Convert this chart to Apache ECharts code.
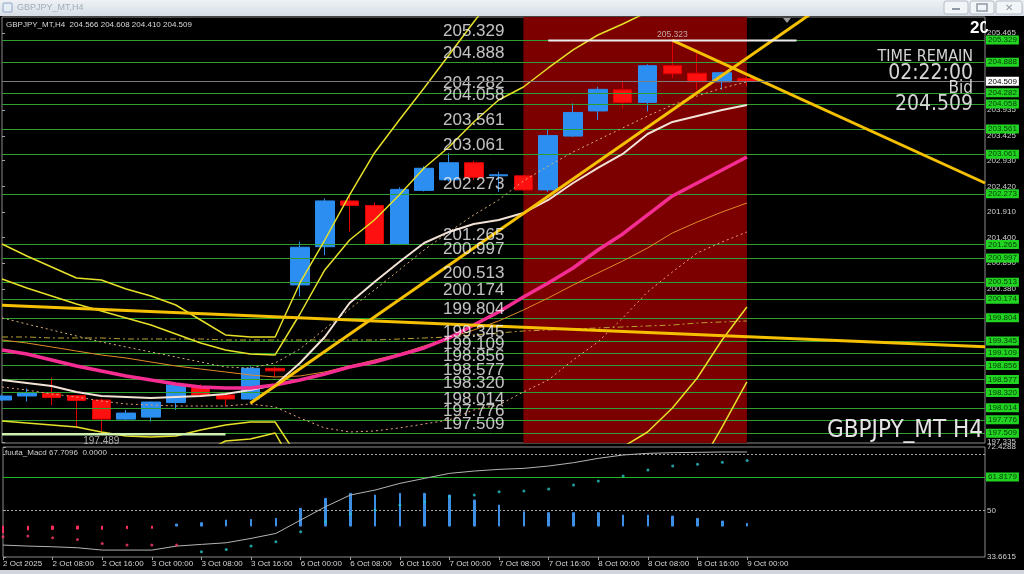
<!DOCTYPE html>
<html><head><meta charset="utf-8">
<script src="https://cdn.jsdelivr.net/npm/echarts@6/dist/echarts.min.js"></script>
<style>html,body{margin:0;padding:0;background:#000;overflow:hidden}#c{width:1024px;height:574px}</style>
</head><body><div id="c"></div>
<script>
// ---------- DATA ----------
const timeTickIndex = [0,2,4,6,8,10,12,14,16,18,20,22,24,26,28,30];
const timeTickLabels = ['2 Oct 2025','2 Oct 08:00','2 Oct 16:00','3 Oct 00:00','3 Oct 08:00','3 Oct 16:00','6 Oct 00:00','6 Oct 08:00','6 Oct 16:00','7 Oct 00:00','7 Oct 08:00','7 Oct 16:00','8 Oct 00:00','8 Oct 08:00','8 Oct 16:00','9 Oct 00:00'];

const openP  = [198.17,198.25,198.30,198.26,198.17,197.79,197.83,198.12,198.42,198.27,198.19,198.80,200.46,201.22,202.13,202.04,201.27,202.34,202.55,202.89,202.63,202.63,202.35,203.42,203.92,204.34,204.09,204.82,204.67,204.50,204.566];
const closeP = [198.25,198.32,198.22,198.16,197.79,197.91,198.13,198.47,198.27,198.19,198.80,198.75,201.21,202.13,202.04,201.27,202.36,202.78,202.89,202.60,202.65,202.35,203.43,203.89,204.35,204.09,204.82,204.66,204.50,204.68,204.509];
const lowP   = [198.15,198.14,198.07,197.61,197.489,197.77,197.74,197.97,198.25,198.04,198.17,198.63,200.23,201.05,201.52,201.25,201.25,202.32,202.52,202.55,202.31,202.33,202.31,203.40,203.74,203.97,203.91,204.57,204.34,204.34,204.410];
const highP  = [198.28,198.40,198.62,198.27,198.20,197.97,198.14,198.50,198.48,198.30,198.84,198.83,201.32,202.18,202.28,202.10,202.40,202.82,203.08,202.93,202.71,202.65,203.56,204.07,204.40,204.50,204.85,205.323,205.07,204.70,204.608];

const pinkMA   = [199.165,199.086,198.966,198.847,198.747,198.648,198.568,198.489,198.429,198.409,198.409,198.469,198.568,198.688,198.827,198.926,199.066,199.205,199.404,199.662,199.921,200.219,200.498,200.796,201.154,201.473,201.851,202.229,202.487,202.746,203.005];
const whiteMA  = [198.568,198.509,198.449,198.330,198.250,198.230,198.210,198.230,198.250,198.290,198.369,198.469,198.907,199.424,200.100,200.518,200.916,201.294,201.513,201.672,201.751,201.891,202.149,202.487,202.786,203.064,203.462,203.701,203.820,203.939,204.039];
const orangeMA = [199.364,199.304,199.225,199.145,199.066,199.006,198.926,198.847,198.787,198.728,198.668,198.628,198.648,198.728,198.847,198.966,199.086,199.245,199.404,199.563,199.742,199.961,200.200,200.458,200.697,200.936,201.194,201.493,201.711,201.910,202.089];
const bandUpper2 = [201.274,201.035,200.816,200.597,200.558,200.379,200.239,200.060,199.762,199.464,199.424,199.424,200.498,201.353,202.249,203.084,203.741,204.377,205.034,205.690,206.327];
const bandUpper1 = [200.578,200.399,200.239,200.080,199.941,199.802,199.662,199.483,199.304,199.165,199.086,199.066,199.881,200.757,201.353,201.751,202.249,202.786,203.203,203.701,204.138,204.397,204.775,205.133,205.431,205.650,205.889,206.167];
const bandLower1 = [197.753,197.713,197.673,197.633,197.534,197.454,197.434,197.454,197.574,197.673,197.733,197.733,196.977,196.380,195.783,195.385,195.087,194.988,194.988,195.087,195.286,195.584,195.942,196.281,196.778,197.236,197.534,198.011,198.608,199.364,200.021];
const bandLower2 = [197.056,197.137,197.116,197.097,196.936,196.917,196.897,196.918,197.096,197.354,197.394,197.514,196.638,196.0,195.4,194.8,194.4,194.0,193.8,193.6,193.5,193.6,193.8,194.2,194.7,195.3,195.8,196.3,196.78,197.63,198.53];
const dottedUpper = [199.802,199.682,199.563,199.444,199.324,199.225,199.125,199.026,198.926,198.827,198.807,198.907,199.185,199.583,199.981,200.359,200.757,201.155,201.513,201.851,202.149,202.527,202.826,203.104,203.343,203.582,203.820,204.039,204.218,204.377,204.496];
const dottedLower = [198.429,198.369,198.290,198.230,198.151,198.091,198.071,198.051,198.051,198.051,198.091,198.031,197.812,197.614,197.534,197.554,197.614,197.693,197.773,197.972,198.071,198.330,198.568,198.966,199.324,199.802,200.319,200.717,201.095,201.314,201.513];
const dashedLong = [199.424,199.424,199.404,199.404,199.404,199.384,199.384,199.384,199.384,199.364,199.364,199.364,199.364,199.364,199.364,199.364,199.384,199.404,199.424,199.464,199.503,199.543,199.563,199.583,199.603,199.623,199.643,199.662,199.702,199.722,199.742];

const trendFlat = [[0,200.055],[39.59,199.23]];
const trendUp   = [[10,198.105],[33,206.0]];
const trendDown = [[27,205.323],[39.59,202.487]];
const highLine  = [[22,205.323],[32,205.323]];
const highLabelAt = [27,205.323];
const lowLine   = [[0,197.489],[9,197.489]];
const lowLabelAt = [4,197.489];
const redZone   = [21,30];

const levels = [205.329,204.888,204.282,204.058,203.561,203.061,202.273,201.265,200.997,200.513,200.174,199.804,199.345,199.109,198.856,198.577,198.320,198.014,197.776,197.509];
const levelLabelBar = 19;
const currentBid = 204.509;
const priceAxisTicks = [205.465,203.935,203.425,202.930,202.420,201.910,201.400,200.890,200.380,197.335];

const macdSignal = [37.86,37.51,37.27,36.92,36.10,36.10,36.10,37.51,38.10,38.68,40.21,41.97,46.68,51.38,55.50,57.26,59.61,61.38,63.14,63.96,64.55,64.90,65.73,66.90,68.43,69.61,70.20,70.43,70.55,70.67,70.67];
const macdMain = [40.80,41.04,40.45,39.86,38.45,37.86,37.86,37.86,35.51,36.33,37.51,39.04,42.56,46.09,48.80,50.21,51.97,53.15,54.91,55.50,56.67,56.91,57.61,59.02,60.44,62.20,64.32,65.73,66.31,67.02,67.71];
const macdHist = [42.20,43.15,43.39,43.50,43.39,43.62,43.74,45.27,45.74,46.68,46.92,47.27,50.80,54.32,56.09,55.50,56.09,56.09,55.50,53.73,51.97,49.62,49.27,49.27,49.27,48.44,48.44,48.09,47.27,46.33,45.50];
const macdHistBase = 44.56;
const macdDotted = [70,50];
const macdFib = 61.8179;
const macdAxisTicks = [72.4288,70,50,33.6615];

// ---------- CHART ----------
const X_MIN = 0, X_MAX = 39.59;
const F = "'Liberation Sans', Arial, sans-serif";
const FN = "'Liberation Sans Narrow', 'DejaVu Sans Condensed', 'Liberation Sans', sans-serif";
const pts = arr => arr.map((v,i)=>[i,v]);
const ln = (name, data, color, width, type, z) => ({name, type:'line', xAxisIndex:0, yAxisIndex:0, data, symbol:'none', showSymbol:false, silent:true, z, clip:true, lineStyle:{color, width, type}});

const gText = (text, x, y, font, fill, align, vAlign, extra) => ({type:'text', x, y, z:100, silent:true,
  style:Object.assign({text, font, fill, align:align||'left', verticalAlign:vAlign||'middle', textAlign:align||'left', textVerticalAlign:vAlign||'middle'}, extra||{})});

const chart = echarts.init(document.getElementById('c'), null, {width:1024, height:574});
chart.setOption({
  backgroundColor:'#000',
  animation:false,
  grid:[
    {left:2, top:17, width:983, height:426, show:true, borderColor:'#8a8a8a', borderWidth:1, backgroundColor:'#000'},
    {left:2, top:447, width:983, height:110, show:true, borderColor:'#8a8a8a', borderWidth:1, backgroundColor:'#000'}
  ],
  xAxis:[
    {gridIndex:0, type:'value', min:X_MIN, max:X_MAX, show:false, splitLine:{show:false}},
    {gridIndex:1, type:'value', min:X_MIN, max:X_MAX, splitLine:{show:false}, axisLine:{show:false},
     axisTick:{show:true, customValues:timeTickIndex, length:3, lineStyle:{color:'#a0a0a0'}},
     axisLabel:{show:true, customValues:timeTickIndex, formatter:v=>timeTickLabels[timeTickIndex.indexOf(Math.round(v))]||'',
       color:'#d4d4d4', fontSize:8, fontFamily:F, align:'left', margin:3, hideOverlap:false}}
  ],
  yAxis:[
    {gridIndex:0, type:'value', position:'right', min:197.315, max:205.789, scale:true, splitLine:{show:false}, axisLine:{show:false},
     axisTick:{show:true, customValues:priceAxisTicks, length:3, lineStyle:{color:'#a0a0a0'}},
     axisLabel:{customValues:priceAxisTicks, formatter:v=>Number(v).toFixed(3), color:'#d0d0d0', fontSize:8, fontFamily:F, margin:2, hideOverlap:false, showMinLabel:true, showMaxLabel:true}},
    {gridIndex:1, type:'value', position:'right', min:33.66, max:72.432, scale:true, splitLine:{show:false}, axisLine:{show:false},
     axisTick:{show:true, customValues:macdAxisTicks, length:3, lineStyle:{color:'#a0a0a0'}},
     axisLabel:{customValues:macdAxisTicks, formatter:v=>Number.isInteger(v)?String(v):Number(v).toFixed(4), color:'#d0d0d0', fontSize:8, fontFamily:F, margin:2,
       hideOverlap:false, showMinLabel:true, showMaxLabel:true}}
  ],
  series:[
    {name:'zone', type:'line', xAxisIndex:0, yAxisIndex:0, data:[], silent:true,
     markArea:{silent:true, z:1, itemStyle:{color:'#7c0000'}, data:[[{xAxis:redZone[0]},{xAxis:redZone[1]}]]}},
    {name:'candles', type:'candlestick', xAxisIndex:0, yAxisIndex:0, z:2, barWidth:19, silent:true,
     data:openP.map((o,i)=>[i,o,closeP[i],lowP[i],highP[i]]),
     itemStyle:{color:'#2b8ef0', color0:'#ff1010', borderColor:'#2b8ef0', borderColor0:'#e00000', borderWidth:1}},
    {name:'levels', type:'line', xAxisIndex:0, yAxisIndex:0, data:[], silent:true,
     markLine:{silent:true, z:3, symbol:['none','none'], precision:3,
       lineStyle:{color:'#2f9f2f', width:1, type:'solid'},
       label:{show:true, position:'end', distance:1, formatter:p=>Number(p.value).toFixed(3),
         backgroundColor:'#22d422', color:'#063806', fontSize:8, fontFamily:F, padding:[0,2,0,2], lineHeight:9},
       data:levels.map(v=>({yAxis:v}))}},
    ln('dashLong', pts(dashedLong), '#b8a030', 1, [6,3,2,3], 6),
    ln('dotLower', pts(dottedLower), '#e8a07a', 1, [2,3], 6),
    ln('dotUpper', pts(dottedUpper), '#d8b078', 1, [2,3], 6),
    ln('orangeMA', pts(orangeMA), '#e08a28', 1, 'solid', 6),
    ln('bandU2', pts(bandUpper2), '#e6e028', 1.5, 'solid', 6),
    ln('bandU1', pts(bandUpper1), '#e6e028', 1.5, 'solid', 6),
    ln('bandL1', pts(bandLower1), '#e6e028', 1.5, 'solid', 6),
    ln('bandL2', pts(bandLower2), '#e6e028', 1.5, 'solid', 6),
    ln('whiteMA', pts(whiteMA), '#f3e2d6', 2, 'solid', 6),
    ln('pinkMA', pts(pinkMA), '#f52d92', 3.5, 'solid', 6),
    ln('trendFlat', trendFlat, '#f5c000', 3, 'solid', 7),
    ln('trendUp', trendUp, '#f5c000', 3, 'solid', 7),
    ln('trendDown', trendDown, '#f5c000', 3, 'solid', 7),
    ln('highLine', highLine, '#ececec', 2, 'solid', 7),
    ln('lowLine', lowLine, '#cdf0b0', 2.5, 'solid', 7),
    {name:'levelText', type:'scatter', xAxisIndex:0, yAxisIndex:0, z:8, silent:true, symbolSize:1,
     itemStyle:{color:'rgba(0,0,0,0)'}, data:levels.map(v=>[levelLabelBar,v]),
     label:{show:true, position:'top', distance:0, formatter:p=>p.value[1].toFixed(3), color:'#f2f2f2', fontSize:17, fontFamily:F}},
    {name:'hiLoText', type:'scatter', xAxisIndex:0, yAxisIndex:0, z:8, silent:true, symbolSize:1,
     itemStyle:{color:'rgba(0,0,0,0)'},
     data:[{value:highLabelAt, label:{position:'top', distance:1, fontSize:8.5}}, {value:lowLabelAt, label:{position:'bottom', distance:1, fontSize:10}}],
     label:{show:true, formatter:p=>p.value[1].toFixed(3), color:'#d0d0d0', fontFamily:F}},
    {name:'bid', type:'line', xAxisIndex:0, yAxisIndex:0, data:[], silent:true,
     markLine:{silent:true, z:9, symbol:['none','none'], precision:3, lineStyle:{color:'#7a7a7a', width:1, type:'solid'},
       label:{show:true, position:'end', distance:1, formatter:p=>Number(p.value).toFixed(3), backgroundColor:'#ffffff', color:'#000', fontSize:8, fontFamily:F, padding:[0,2,0,2], lineHeight:9},
       data:[{yAxis:currentBid}]}},
    // MACD pane
    {name:'macdLevels', type:'line', xAxisIndex:1, yAxisIndex:1, data:[], silent:true,
     markLine:{silent:true, z:3, symbol:['none','none'], precision:4,
       data:[
         {yAxis:macdDotted[0], lineStyle:{color:'#a8a8a8', width:1, type:[2,2]}, label:{show:false}},
         {yAxis:macdDotted[1], lineStyle:{color:'#a8a8a8', width:1, type:[2,2]}, label:{show:false}},
         {yAxis:macdFib, lineStyle:{color:'#22b822', width:1, type:'solid'},
          label:{show:true, position:'end', distance:1, formatter:p=>Number(p.value).toFixed(4), backgroundColor:'#22d422', color:'#063806', fontSize:8, fontFamily:F, padding:[0,2,0,2], lineHeight:9}}
       ]}},
    {name:'macdSignal', type:'line', xAxisIndex:1, yAxisIndex:1, z:5, symbol:'none', silent:true, data:pts(macdSignal), lineStyle:{color:'#b4b4b4', width:1}},
    {name:'macdHist', type:'candlestick', xAxisIndex:1, yAxisIndex:1, z:4, barWidth:2, silent:true,
     data:macdHist.map((v,i)=>[i,macdHistBase,v,Math.min(macdHistBase,v),Math.max(macdHistBase,v)]),
     itemStyle:{color:'#3d8fe6', color0:'#ff2f5a', borderColor:'#3d8fe6', borderColor0:'#ff2f5a', borderWidth:1}},
    {name:'macdDotsPink', type:'scatter', xAxisIndex:1, yAxisIndex:1, z:6, silent:true, symbolSize:3,
     itemStyle:{color:'#ff3a6a'}, data:pts(macdMain).slice(0,8)},
    {name:'macdDotsCyan', type:'scatter', xAxisIndex:1, yAxisIndex:1, z:6, silent:true, symbolSize:3,
     itemStyle:{color:'#27c4c8'}, data:pts(macdMain).slice(8)}
  ],
  graphic:{elements:[
    {type:'rect', z:90, silent:true, shape:{x:0,y:0,width:1024,height:16},
     style:{fill:{type:'linear',x:0,y:0,x2:0,y2:1,colorStops:[{offset:0,color:'#eef2f6'},{offset:1,color:'#d6dde5'}]}}},
    {type:'rect', z:91, silent:true, shape:{x:3,y:3,width:9,height:9,r:1}, style:{fill:'#e4ecf4', stroke:'#8ea6c2', lineWidth:1}},
    gText('GBPJPY_MT,H4', 17, 8, '9px '+F, '#a3acb6'),
    {type:'rect', z:91, silent:true, shape:{x:944,y:1,width:24,height:13,r:2}, style:{fill:'#f2f5f8', stroke:'#b4bcc6', lineWidth:1}},
    {type:'rect', z:91, silent:true, shape:{x:970,y:1,width:24,height:13,r:2}, style:{fill:'#f2f5f8', stroke:'#b4bcc6', lineWidth:1}},
    {type:'rect', z:91, silent:true, shape:{x:996,y:1,width:26,height:13,r:2}, style:{fill:'#f2f5f8', stroke:'#b4bcc6', lineWidth:1}},
    {type:'rect', z:92, silent:true, shape:{x:952,y:8,width:8,height:2}, style:{fill:'#8e98a4'}},
    {type:'rect', z:92, silent:true, shape:{x:977,y:4,width:10,height:7}, style:{fill:'none', stroke:'#8e98a4', lineWidth:1.5}},
    gText('✕', 1009, 8, '10px '+F, '#8e98a4', 'center'),
    {type:'rect', z:90, silent:true, shape:{x:0,y:570,width:1024,height:4}, style:{fill:'#cfd5db'}},
    gText('GBPJPY_MT,H4  204.566 204.608 204.410 204.509', 6, 25, '8px '+F, '#d8d8d8'),
    gText('fuuta_Macd 67.7096  0.0000', 5, 453, '8px '+F, '#d0d0d0', 'left', 'middle', {backgroundColor:'#000', padding:[0,2,0,0]}),
    gText('TIME REMAIN', 973, 57, '16px '+FN, '#d6d6d6', 'right'),
    gText('02:22:00', 973, 74, '21px '+FN, '#d6d6d6', 'right'),
    gText('Bid', 973, 89, '17px '+FN, '#d6d6d6', 'right'),
    gText('204.509', 973, 105, '21px '+FN, '#d6d6d6', 'right'),
    gText('GBPJPY_MT H4', 983, 431, '24px '+FN, '#e4e4e4', 'right'),
    gText('20', 970, 28, 'bold 17px '+F, '#ffffff', 'left'),
    {type:'rect', z:101, silent:true, shape:{x:986,y:17,width:38,height:12}, style:{fill:'#000'}},
    {type:'polygon', z:101, silent:true, shape:{points:[[783,18],[791,18],[787,23]]}, style:{fill:'#9a9a9a'}}
  ]}
});
</script>
</body></html>
